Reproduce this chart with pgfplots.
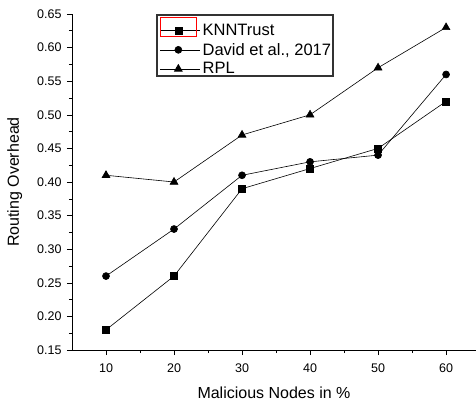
\documentclass[border=0pt]{standalone}
\usepackage{pgfplots}
\pgfplotsset{compat=1.18}
\usepackage{fontspec}
\setmainfont{Liberation Sans}
\begin{document}
\begin{tikzpicture}[x=1pt,y=1pt]
\path[use as bounding box] (0,0) rectangle (476,402);
\begin{axis}[
  at={(72pt,52pt)}, anchor=south west,
  scale only axis, width=404pt, height=336pt,
  xmin=5, xmax=64.4, ymin=0.15, ymax=0.65,
  axis x line=bottom, axis y line=left,
  axis line style={-, line width=0.8pt},
  tick align=outside,
  major tick length=5pt, minor tick length=3pt,
  tick style={black, line width=0.6pt},
  xtick={10,20,30,40,50,60}, minor x tick num=1,
  ytick={0.15,0.20,...,0.66}, minor y tick num=1,
  /pgf/number format/assume math mode=true,
  yticklabel style={/pgf/number format/fixed, /pgf/number format/fixed zerofill, /pgf/number format/precision=2, xshift=-2pt},
  xticklabel style={yshift=-5pt},
  ticklabel style={font=\fontsize{12.5}{14}\selectfont},
  xlabel={Malicious Nodes in \%}, ylabel={Routing Overhead},
  label style={font=\fontsize{16}{18}\selectfont},
  xlabel style={yshift=-8pt},
  ylabel style={yshift=8pt},
  legend style={at={(0.21,0.985)}, anchor=north west, draw=none, fill=none,
    font=\fontsize{16.5}{18}\selectfont, row sep=2pt, inner xsep=3pt, inner ysep=3pt},
  legend cell align=left,
  legend image code/.code={\path (0pt,0pt) -- (40pt,0pt); \draw[#1] (0pt,0pt) -- (36pt,0pt); \draw[#1, only marks] plot coordinates {(18pt,0pt)};},
]
\addplot[black, line width=0.6pt, mark=square*, mark size=3.5pt] coordinates {(10,0.18) (20,0.26) (30,0.39) (40,0.42) (50,0.45) (60,0.52)};
\addlegendentry{KNNTrust}
\addplot[black, line width=0.6pt, mark=*, mark size=3.5pt] coordinates {(10,0.26) (20,0.33) (30,0.41) (40,0.43) (50,0.44) (60,0.56)};
\addlegendentry{David et al., 2017}
\addplot[black, line width=0.6pt, mark=triangle*, mark size=4.5pt] coordinates {(10,0.41) (20,0.40) (30,0.47) (40,0.50) (50,0.57) (60,0.63)};
\addlegendentry{RPL}
\end{axis}
\draw[draw=black!80, line width=1.6pt] (157,326) -- (333,326) -- (333,387) -- (157,387) -- cycle;
\draw[red, line width=0.8pt] (160.5,365.5) rectangle (196.5,384.5);
\end{tikzpicture}
\end{document}
